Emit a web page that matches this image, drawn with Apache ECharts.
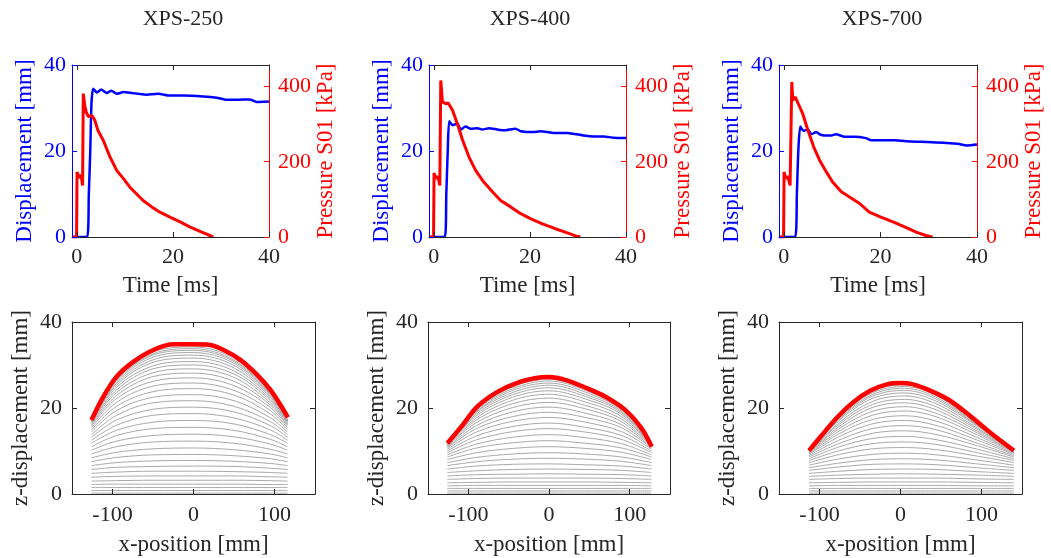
<!DOCTYPE html>
<html><head><meta charset="utf-8">
<script src="https://cdn.jsdelivr.net/npm/echarts@6/dist/echarts.min.js"></script>
<style>html,body{margin:0;padding:0;background:#fff}#c{width:1051px;height:558px}</style>
</head><body><div id="c"></div>
<script>
// ---------------- DATA ----------------
const panelTitles = ['XPS-250', 'XPS-400', 'XPS-700'];
const timeTicks = [0, 20, 40];
const dispTicks = [0, 20, 40];
const pressTicks = [0, 200, 400];
const posTicks = [-100, 0, 100];
const zTicks = [0, 20, 40];

// Displacement (mm) vs time (ms)
const dispT250 = [-1, 2.15, 2.5, 2.8, 3.05, 3.4, 4.2, 5.1, 6.2, 7.2, 8.3, 9.7, 11.4, 12.8, 14.5, 16.9, 19.4, 22.2, 26.3, 29.1, 31.2, 33.3, 36, 37.4, 40];
const disp250  = [0, 0, 10, 20, 31, 34.5, 33.6, 34.3, 33.5, 34, 33.3, 33.7, 33.5, 33.3, 33.1, 33.3, 32.9, 32.9, 32.7, 32.4, 31.9, 31.9, 32, 31.4, 31.5];
const dispT400 = [-1, 2.3, 2.6, 2.9, 3.2, 3.9, 4.9, 5.6, 6.6, 7.7, 9.1, 10.1, 11.5, 13.2, 14.6, 17, 18.1, 20.8, 22.2, 25, 27.8, 31.2, 33.3, 35.4, 37.4, 40];
const disp400  = [0, 0, 10, 20, 26.9, 26, 26.4, 25, 25.7, 25.2, 25.3, 25, 25.3, 25, 24.8, 25.2, 24.6, 24.4, 24.6, 24.2, 24.2, 23.6, 23.4, 23.4, 23.1, 23];
const dispT700 = [-1, 2.35, 2.7, 3.0, 3.4, 4.1, 5.0, 5.7, 6.7, 7.4, 8.4, 9.8, 10.8, 12.6, 14.6, 17, 18.1, 20.8, 22.9, 26.3, 29.8, 33.2, 36, 38, 40];
const disp700  = [0, 0, 10, 20, 25.7, 24.7, 25, 23.9, 24.4, 23.9, 23.6, 23.6, 23.9, 23.3, 23.3, 23, 22.5, 22.5, 22.5, 22.2, 22.1, 21.9, 21.7, 21.3, 21.5];

// Pressure S01 (kPa) vs time (ms)
const pressT250 = [-1, -0.05, 0.05, 0.4, 0.7, 1.0, 1.2, 1.35, 1.7, 2.0, 2.4, 2.8, 3.2, 3.75, 4.4, 5.5, 6.9, 8.3, 9.7, 11, 12.4, 13.8, 15.6, 17.3, 19.4, 21.5, 23.5, 26, 27.7, 28.4];
const press250  = [0, 0, 173, 157, 165, 155, 137, 381, 345, 330, 320, 318, 322, 310, 283, 257, 213, 177, 155, 133, 115, 97, 80, 66, 53, 40, 27, 13, 4, 0];
const pressT400 = [-1, -0.05, 0.05, 0.4, 0.7, 1.0, 1.25, 1.45, 1.8, 2.5, 3.0, 3.9, 4.9, 6.0, 7.3, 8.7, 10.4, 12.2, 13.9, 16, 18.1, 20.1, 22.6, 25.3, 27.8, 29.5, 30.5];
const press400  = [0, 0, 170, 155, 162, 152, 137, 416, 359, 354, 356, 337, 301, 257, 213, 177, 146, 120, 97, 80, 62, 49, 35, 22, 11, 3, 0];
const pressT700 = [-1, -0.05, 0.05, 0.4, 0.7, 1.0, 1.3, 1.65, 1.85, 2.35, 3.0, 3.9, 5.0, 6.2, 7.4, 8.8, 10.1, 11.9, 13.6, 15.7, 17.7, 20.1, 22.6, 25, 27.4, 29.4, 30.8];
const press700  = [0, 0, 173, 155, 162, 152, 137, 412, 363, 372, 354, 328, 283, 239, 204, 173, 146, 120, 106, 89, 66, 53, 40, 27, 13, 4, 0];

// Final deformed profile (red): x-position (mm), z-displacement (mm)
const finalX250 = [-126, -111.5, -95, -74, -49.6, -24.8, 0, 18.6, 37.2, 57.9, 78.6, 95, 107.4, 116.5];
const finalZ250 = [17.2, 22.6, 27.3, 30.8, 33.5, 34.8, 34.8, 34.7, 33.5, 31.2, 27.7, 24.2, 20.7, 17.8];
const finalX400 = [-126, -109, -89, -64.5, -36, -11.4, 0, 21, 45.7, 70, 94.7, 115, 127.3];
const finalZ400 = [11.8, 15.6, 20.3, 23.7, 26.1, 27.1, 27.2, 26.5, 24.7, 22.6, 19.5, 15.2, 11];
const finalX700 = [-113, -98.8, -78.4, -58, -37.6, -17, 0, 15.5, 36, 60.4, 85, 109.4, 140];
const finalZ700 = [10.1, 13.3, 17.8, 21.4, 24, 25.5, 25.8, 25.5, 24.1, 21.8, 18.3, 14.5, 10.1];

// Intermediate profiles (grey), sampled at these x-positions
const profX250 = [-126, -95, -50, 0, 50, 95, 116];
const prof250 = [
  [0.2,0.2,0.2,0.2,0.2,0.2,0.2],[0.8,0.8,0.8,0.8,0.8,0.8,0.8],[1.5,1.5,1.5,1.5,1.5,1.5,1.5],
  [2.2,2.3,2.3,2.3,2.3,2.2,2.2],[3.0,3.1,3.2,3.2,3.2,3.1,3.0],[3.9,4.1,4.2,4.2,4.2,4.0,3.9],
  [4.8,5.1,5.3,5.3,5.2,5.0,4.8],[5.7,6.2,6.4,6.5,6.4,6.0,5.7],[6.6,7.3,7.7,7.8,7.6,7.1,6.6],
  [7.5,8.5,9.1,9.2,8.9,8.2,7.5],[8.4,9.7,10.5,10.7,10.3,9.3,8.4],[9.3,11.0,12.1,12.3,11.8,10.4,9.3],
  [10.2,12.3,13.6,13.9,13.3,11.6,10.2],[11.0,13.6,15.2,15.5,14.8,12.7,11.0],[11.8,14.8,16.7,17.1,16.3,13.8,11.8],
  [12.5,16.0,18.3,18.7,17.7,14.9,12.5],[13.2,17.2,19.7,20.2,19.1,15.9,13.2],[13.8,18.3,21.2,21.7,20.4,16.8,13.8],
  [14.4,19.4,22.5,23.1,21.7,17.7,14.4],[14.9,20.4,23.8,24.5,23.0,18.6,14.9],[15.4,21.3,25.1,25.8,24.1,19.4,15.4],
  [15.8,22.2,26.2,27.0,25.2,20.1,15.8],[16.1,22.9,27.3,28.1,26.2,20.7,16.1],[16.4,23.6,28.2,29.1,27.1,21.2,16.4],
  [16.6,24.2,29.1,30.0,27.9,21.7,16.6],[16.8,24.8,29.8,30.8,28.6,22.1,16.8],[16.9,25.3,30.6,31.6,29.3,22.5,16.9],
  [17.0,25.7,31.2,32.3,29.9,22.8,17.0],[17.1,26.1,31.8,32.9,30.4,23.1,17.1],[17.1,26.4,32.3,33.4,30.8,23.3,17.1],
  [17.2,26.7,32.6,33.8,31.1,23.5,17.2],[17.2,26.9,33.0,34.2,31.5,23.7,17.2]
];
const profX400 = [-126, -90, -45, 0, 45, 90, 127];
const prof400 = [
  [0.2,0.2,0.2,0.2,0.2,0.2,0.2],[0.7,0.7,0.7,0.7,0.7,0.7,0.7],[1.3,1.3,1.3,1.3,1.3,1.3,1.3],
  [1.9,2.0,2.0,2.0,2.0,2.0,1.9],[2.6,2.7,2.8,2.8,2.8,2.7,2.6],[3.4,3.6,3.7,3.7,3.7,3.6,3.4],
  [4.2,4.5,4.6,4.7,4.6,4.5,4.2],[5.0,5.4,5.7,5.8,5.7,5.5,5.0],[5.8,6.5,6.9,7.0,6.8,6.5,5.8],
  [6.6,7.5,8.1,8.3,8.1,7.6,6.6],[7.3,8.5,9.3,9.6,9.3,8.6,7.3],[8.0,9.6,10.6,11.0,10.6,9.7,8.0],
  [8.6,10.7,11.9,12.4,11.8,10.7,8.6],[9.1,11.6,13.2,13.8,13.1,11.7,9.1],[9.6,12.6,14.5,15.2,14.4,12.7,9.6],
  [10.0,13.5,15.7,16.5,15.5,13.6,10.0],[10.4,14.4,16.9,17.8,16.7,14.5,10.4],[10.7,15.2,18.0,19.0,17.8,15.4,10.7],
  [10.9,15.9,19.1,20.2,18.8,16.1,10.9],[11.1,16.6,20.1,21.3,19.8,16.8,11.1],[11.2,17.2,21.0,22.3,20.6,17.4,11.2],
  [11.3,17.7,21.8,23.2,21.4,18.0,11.3],[11.4,18.2,22.5,24.0,22.1,18.5,11.4],[11.4,18.6,23.1,24.7,22.7,18.9,11.4],
  [11.5,19.0,23.6,25.3,23.2,19.2,11.5],[11.5,19.2,24.1,25.8,23.7,19.5,11.5],[11.5,19.5,24.5,26.3,24.1,19.8,11.5],
  [11.5,19.7,24.9,26.7,24.4,20.0,11.5],[11.5,19.9,25.1,27.0,24.7,20.2,11.5]
];
const profX700 = [-113, -75, -35, 5, 45, 95, 140];
const prof700 = [
  [0.2,0.2,0.2,0.2,0.2,0.2,0.2],[0.7,0.7,0.7,0.7,0.7,0.7,0.7],[1.3,1.3,1.3,1.3,1.3,1.3,1.3],
  [1.9,2.0,2.0,2.0,2.0,1.9,1.9],[2.6,2.7,2.8,2.8,2.8,2.7,2.6],[3.4,3.6,3.7,3.7,3.7,3.5,3.4],
  [4.1,4.4,4.6,4.7,4.6,4.4,4.1],[4.8,5.3,5.7,5.8,5.7,5.2,4.8],[5.5,6.3,6.9,7.0,6.8,6.1,5.5],
  [6.1,7.2,8.0,8.2,7.9,7.0,6.1],[6.7,8.2,9.2,9.5,9.1,7.9,6.7],[7.3,9.2,10.5,10.8,10.3,8.8,7.3],
  [7.8,10.1,11.7,12.1,11.5,9.6,7.8],[8.2,11.0,12.9,13.4,12.6,10.4,8.2],[8.6,11.8,14.1,14.7,13.8,11.2,8.6],
  [8.9,12.6,15.2,15.9,14.9,11.8,8.9],[9.2,13.4,16.3,17.1,15.9,12.5,9.2],[9.4,14.1,17.3,18.2,16.9,13.1,9.4],
  [9.6,14.7,18.3,19.3,17.9,13.7,9.6],[9.7,15.3,19.2,20.3,18.7,14.2,9.7],[9.8,15.8,20.1,21.2,19.5,14.6,9.8],
  [9.9,16.3,20.8,22.0,20.2,15.0,9.9],[9.9,16.7,21.5,22.8,20.9,15.3,9.9],[10.0,17.2,22.2,23.5,21.5,15.7,10.0],
  [10.0,17.5,22.7,24.1,22.0,15.9,10.0],[10.0,17.7,23.1,24.6,22.4,16.1,10.0],[10.0,18.0,23.5,25.0,22.8,16.3,10.0],
  [10.0,18.2,23.9,25.4,23.1,16.5,10.0]
];

// ---------------- CHART ----------------
const FONT = '"Liberation Serif","Times New Roman",serif';
const INK = '#262626', BLUE = '#0000ff', RED = '#ff0000';
const TICK_FS = 22, NAME_FS = 23;

const topGrids = [
  {left: 72, top: 65, width: 197, height: 172},
  {left: 429, top: 65, width: 197, height: 172},
  {left: 779, top: 65, width: 198, height: 172}
];
const botGrids = [
  {left: 72, top: 322, width: 243, height: 172},
  {left: 428, top: 322, width: 242, height: 172},
  {left: 779, top: 322, width: 243, height: 172}
];
const titleX = [183, 530, 882];

const disp = [[dispT250, disp250], [dispT400, disp400], [dispT700, disp700]];
const press = [[pressT250, press250], [pressT400, press400], [pressT700, press700]];
const finals = [[finalX250, finalZ250], [finalX400, finalZ400], [finalX700, finalZ700]];
const profs = [[profX250, prof250], [profX400, prof400], [profX700, prof700]];

function pairs(xs, ys) { return xs.map((x, i) => [x, ys[i]]); }

function axis(grid, pos, min, max, ticks, color, showLabel, name, nameGap, labelMargin) {
  return {
    type: 'value', gridIndex: grid, position: pos, min: min, max: max,
    axisLine: {show: true, onZero: false, lineStyle: {color: color, width: 1}},
    axisTick: {show: true, inside: true, length: 5, customValues: ticks, lineStyle: {color: color, width: 1}},
    axisLabel: {show: showLabel, customValues: ticks, color: color, fontFamily: FONT, fontSize: TICK_FS, margin: labelMargin || 8},
    splitLine: {show: false},
    name: showLabel ? name : '', nameLocation: 'middle', nameGap: nameGap || 30,
    nameTextStyle: {color: color, fontFamily: FONT, fontSize: NAME_FS},
    z: 5
  };
}

const grids = [], xAxes = [], yAxes = [], series = [], graphics = [];
for (let p = 0; p < 3; p++) {
  grids.push(Object.assign({outerBoundsMode: 'none', containLabel: false}, topGrids[p]));
}
for (let p = 0; p < 3; p++) {
  grids.push(Object.assign({outerBoundsMode: 'none', containLabel: false}, botGrids[p]));
}
for (let p = 0; p < 3; p++) {
  const g = p;
  xAxes.push(axis(g, 'bottom', -1, 40, timeTicks, INK, true, 'Time [ms]', 37, 9));
  xAxes.push(axis(g, 'top', -1, 40, timeTicks, INK, false));
  yAxes.push(axis(g, 'left', 0, 40, dispTicks, BLUE, true, 'Displacement [mm]', 36, 6));
  yAxes.push(axis(g, 'right', 0, 457, pressTicks, RED, true, 'Pressure S01 [kPa]', 44, 9));
  series.push({type: 'line', xAxisIndex: 2 * p, yAxisIndex: 2 * p, data: pairs(disp[p][0], disp[p][1]),
    showSymbol: false, smooth: 0.2, lineStyle: {color: BLUE, width: 2.5}, z: 3});
  series.push({type: 'line', xAxisIndex: 2 * p, yAxisIndex: 2 * p + 1, data: pairs(press[p][0], press[p][1]),
    showSymbol: false, smooth: false, lineStyle: {color: RED, width: 3}, z: 4});
  graphics.push({type: 'text', x: titleX[p], y: 19, style: {text: panelTitles[p], fill: INK,
    font: '22px ' + FONT, textAlign: 'center', textVerticalAlign: 'middle'}});
}
for (let p = 0; p < 3; p++) {
  const g = 3 + p, xi = 6 + 2 * p, yi = 6 + 2 * p;
  xAxes.push(axis(g, 'bottom', -150, 150, posTicks, INK, true, 'x-position [mm]', 39, 10));
  xAxes.push(axis(g, 'top', -150, 150, posTicks, INK, false));
  yAxes.push(axis(g, 'left', 0, 40, zTicks, INK, true, 'z-displacement [mm]', 40, 10));
  yAxes.push(axis(g, 'right', 0, 40, zTicks, INK, false));
  const px = profs[p][0];
  profs[p][1].forEach(function (row) {
    series.push({type: 'line', xAxisIndex: xi, yAxisIndex: yi, data: pairs(px, row), showSymbol: false,
      smooth: 0.35, lineStyle: {color: '#a9a9a9', width: 1}, z: 2, silent: true});
  });
  series.push({type: 'line', xAxisIndex: xi, yAxisIndex: yi, data: pairs(finals[p][0], finals[p][1]),
    showSymbol: false, smooth: 0.3, lineStyle: {color: RED, width: 4.5}, z: 4});
}

const chart = echarts.init(document.getElementById('c'), null, {renderer: 'canvas'});
chart.setOption({
  animation: false,
  backgroundColor: '#ffffff',
  grid: grids, xAxis: xAxes, yAxis: yAxes, series: series, graphic: graphics
});
</script></body></html>
